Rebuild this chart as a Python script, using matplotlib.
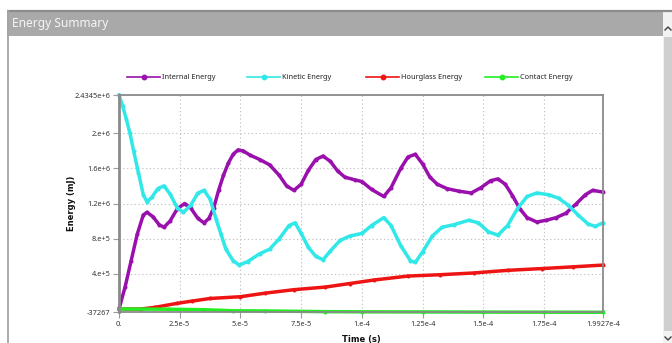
import numpy as np
import matplotlib
matplotlib.use("Agg")
import matplotlib.pyplot as plt
from matplotlib.patches import Rectangle

plt.rcParams['font.family'] = ['Noto Sans', 'DejaVu Sans']

# Time samples in units of 1e-5 s, energies in units of 1e6 mJ
t_internal = [0, 0.25, 0.5, 0.75, 1.0, 1.15, 1.4, 1.65, 1.85, 2.1, 2.4, 2.7, 2.95,
              3.25, 3.5, 3.7, 3.9, 4.1, 4.3, 4.5, 4.7, 4.9, 5.1, 5.4, 5.8, 6.2,
              6.6, 6.9, 7.2, 7.5, 7.8, 8.1, 8.4, 8.7, 9.0, 9.3, 9.7, 10.0, 10.4,
              10.9, 11.2, 11.6, 11.9, 12.2, 12.5, 12.8, 13.1, 13.5, 14.0, 14.5,
              14.9, 15.3, 15.6, 15.9, 16.2, 16.5, 16.8, 17.2, 17.6, 18.0, 18.4,
              18.8, 19.2, 19.5, 19.927]
internal = [0.0, 0.25, 0.55, 0.85, 1.07, 1.10, 1.05, 0.96, 0.93, 1.00, 1.14, 1.20,
            1.15, 1.03, 0.98, 1.03, 1.15, 1.35, 1.52, 1.66, 1.76, 1.81, 1.80, 1.75,
            1.70, 1.64, 1.52, 1.40, 1.35, 1.42, 1.58, 1.70, 1.74, 1.68, 1.57, 1.50,
            1.47, 1.45, 1.36, 1.28, 1.38, 1.60, 1.73, 1.76, 1.65, 1.50, 1.42, 1.37,
            1.34, 1.32, 1.38, 1.46, 1.48, 1.42, 1.29, 1.14, 1.04, 0.99, 1.01, 1.04,
            1.09, 1.19, 1.30, 1.35, 1.33]

t_kinetic = [0, 0.15, 0.3, 0.45, 0.6, 0.8, 1.0, 1.15, 1.35, 1.6, 1.85, 2.1, 2.4,
             2.65, 2.95, 3.25, 3.5, 3.75, 4.0, 4.2, 4.4, 4.7, 4.95, 5.3, 5.8, 6.2,
             6.6, 7.0, 7.25, 7.5, 7.8, 8.1, 8.4, 8.7, 9.1, 9.5, 10.0, 10.4, 10.9,
             11.2, 11.6, 12.0, 12.2, 12.5, 12.9, 13.3, 13.8, 14.4, 14.8, 15.2,
             15.6, 16.0, 16.4, 16.8, 17.2, 17.7, 18.1, 18.5, 18.9, 19.3, 19.6,
             19.927]
kinetic = [2.4345, 2.31, 2.16, 2.00, 1.80, 1.55, 1.30, 1.22, 1.27, 1.37, 1.40, 1.31,
           1.15, 1.10, 1.18, 1.32, 1.35, 1.25, 1.02, 0.85, 0.68, 0.55, 0.50, 0.54,
           0.63, 0.68, 0.80, 0.95, 0.98, 0.86, 0.70, 0.60, 0.56, 0.66, 0.78, 0.83,
           0.86, 0.95, 1.04, 0.95, 0.72, 0.55, 0.53, 0.65, 0.83, 0.93, 0.96, 1.01,
           0.98, 0.88, 0.84, 0.95, 1.14, 1.28, 1.32, 1.30, 1.26, 1.18, 1.07, 0.97,
           0.94, 0.98]

t_hourglass = [0, 0.9, 1.5, 2.4, 3.0, 3.75, 5.0, 6.0, 7.2, 8.5, 9.5, 10.5, 11.9,
               13.2, 14.6, 16.0, 17.4, 18.7, 19.927]
hourglass = [0.0, 0.0, 0.02, 0.065, 0.09, 0.12, 0.14, 0.18, 0.22, 0.25, 0.29, 0.33,
             0.375, 0.39, 0.41, 0.44, 0.46, 0.48, 0.50]

t_contact = [0, 2.0, 3.5, 4.7, 6.0, 8.5, 10.0, 12.5, 15.0, 17.5, 19.927]
contact = [0.0, -0.002, -0.008, -0.02, -0.022, -0.03, -0.032, -0.033, -0.035,
           -0.036, -0.037]

series = [
    ("Internal Energy", t_internal, internal, "#9a10ac"),
    ("Kinetic Energy", t_kinetic, kinetic, "#30e8e8"),
    ("Hourglass Energy", t_hourglass, hourglass, "#ee1414"),
    ("Contact Energy", t_contact, contact, "#22ee22"),
]

x_ticks = [0, 2.5e-5, 5e-5, 7.5e-5, 1e-4, 1.25e-4, 1.5e-4, 1.75e-4, 1.9927e-4]
x_labels = ["0.", "2.5e-5", "5.e-5", "7.5e-5", "1.e-4", "1.25e-4", "1.5e-4",
            "1.75e-4", "1.9927e-4"]
y_ticks = [-37267, 4e5, 8e5, 1.2e6, 1.6e6, 2e6, 2.4345e6]
y_labels = ["-37267", "4.e+5", "8.e+5", "1.2e+6", "1.6e+6", "2.e+6", "2.4345e+6"]

W, H = 672, 343
fig = plt.figure(figsize=(W / 100, H / 100), dpi=100)

# Window frame drawn in pixel coordinates
bg = fig.add_axes([0, 0, 1, 1], zorder=0)
bg.set_xlim(0, W)
bg.set_ylim(H, 0)
bg.axis("off")
bg.add_patch(Rectangle((7, 12), 656, 23.5, color="#a9a9a9", lw=0))
bg.plot([7, W], [11, 11], color="#8c8c8c", lw=1.6, solid_capstyle="butt")
bg.plot([7.5, 7.5], [11, H], color="#a4a4a4", lw=1.3)
bg.add_patch(Rectangle((663, 12), 9, H - 12, color="#f2f2f2", lw=0))
bg.add_patch(Rectangle((664, 37), 8, 294, color="#cfcfcf", lw=0))
bg.plot([665, 668, 671], [30, 27, 30], color="#404040", lw=1.0)
bg.plot([665, 668, 671], [337, 340, 337], color="#404040", lw=1.0)
bg.text(12, 24, "Energy Summary", color="#f6f6f6", fontsize=8.6,
        va="center", ha="left")

# Legend row
leg_x = [127, 247, 366, 485]
for (name, _, _, col), x0 in zip(series, leg_x):
    bg.plot([x0, x0 + 33], [77, 77], color=col, lw=1.2)
    bg.plot([x0 + 16.5], [77], "o", color=col, ms=3.2, mec=col)
    bg.text(x0 + 35, 77.3, name, fontsize=5.3, va="center", ha="left",
            color="#222222")

# Chart area
left, right, top, bottom = 119, 603, 95, 312.3
ax = fig.add_axes([left / W, 1 - bottom / H, (right - left) / W, (bottom - top) / H],
                  zorder=1)
ax.patch.set_alpha(0)

for name, t, e, col in series:
    ax.plot(np.array(t) * 1e-5, np.array(e) * 1e6, color=col, lw=2.5,
            marker="o", ms=2.9, mec=col, mew=0, clip_on=False,
            solid_joinstyle="round")

ax.set_xlim(0, 1.9927e-4)
ax.set_ylim(-37267, 2.4345e6)
ax.set_xticks(x_ticks)
ax.set_xticklabels(x_labels)
ax.set_yticks(y_ticks)
ax.set_yticklabels(y_labels)
ax.tick_params(axis="both", labelsize=5.3, colors="#9a9a9a", labelcolor="#333333",
               length=4, width=0.8, pad=2)
ax.grid(True, linestyle=(0, (1.2, 2.2)), color="#c4c4c4", lw=0.8)
for side in ["left", "right", "top", "bottom"]:
    ax.spines[side].set_color("#8a8a8a")
    ax.spines[side].set_linewidth(1.3)
ax.spines["left"].set_linewidth(2.0)

ax.set_xlabel("Time (s)", fontsize=6.0, fontweight="bold", color="#111111",
              labelpad=5, family="DejaVu Sans")
ax.set_ylabel("Energy (mJ)", fontsize=6.0, fontweight="bold", color="#111111",
              labelpad=-1, family="DejaVu Sans")

fig.savefig("out.png", dpi=100)
